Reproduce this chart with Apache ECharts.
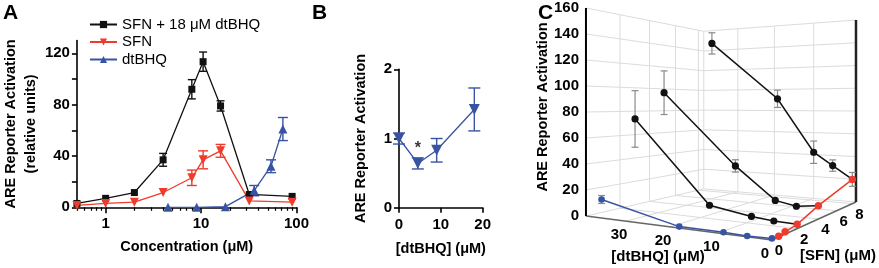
<!DOCTYPE html>
<html>
<head>
<meta charset="utf-8">
<script src="https://cdn.jsdelivr.net/npm/echarts@6/dist/echarts.min.js"></script>
<style>
  html, body { margin: 0; padding: 0; background: #fff; }
  #chart { width: 879px; height: 268px; }
</style>
</head>
<body>
<div id="chart"></div>
<script>
// ---- Panel A: concentration response (uM) ----
const concA = [0.5, 1, 2, 4, 8, 10.5, 16, 32, 90];
const comboA = [3, 7, 11.5, 37, 92, 113.5, 79, 10, 8.5];
const comboErrA = [0, 0, 0, 5, 7.5, 7.5, 4, 0, 0];
const sfnA = [1.5, 3, 4, 11.5, 23, 37, 44, 5, 4];
const sfnErrA = [0, 0, 0, 0, 6, 7, 5, 0, 0];
const dtConcA = [4.5, 9, 18, 36, 54, 72];
const dtA = [0, 0, 0.5, 13, 32, 61];
const dtErrA = [0, 0, 0, 4, 5, 9];
const majorTicksA = [1, 10, 100];
const minorTicksA = [0.5, 0.6, 0.7, 0.8, 0.9, 2, 3, 4, 5, 6, 7, 8, 9, 20, 30, 40, 50, 60, 70, 80, 90];

// ---- Panel B: dtBHQ alone ----
const dtConcB = [0, 4.5, 9, 18];
const actB = [1.0, 0.64, 0.83, 1.42];
const errB = [0.08, 0.08, 0.17, 0.31];

// ---- Panel C: SFN x dtBHQ surface ----
const dtC = [4.5, 9, 18, 36];
const sfnC = [0.5, 1, 2, 4, 8];
const sfnAloneC = [0.5, 1.5, 3, 10, 21];
const sfnAloneErrC = [0, 0, 0, 0, 6];
const dtAloneDoseC = [0, 4.5, 9, 18, 36];
const dtAloneC = [1, 0.5, 1, 1, 14];
const dtAloneErrC = [0, 0, 0, 0, 3];
const comboSfnC = [2, 4, 8];
const comboC = [[3.5, 5, 10, 74], [8, 11, 36, 96], [32, 43, 91, 146]];
const comboErrC = [[0, 0, 0, 23], [0, 0, 5, 19], [5, 10, 8, 10.5]];
const zTicksC = [0, 20, 40, 60, 80, 100, 120, 140, 160];
const dtTicksC = [0, 10, 20, 30];
const sfnTicksC = [0, 2, 4, 6, 8];

const BLACK = '#111';
const RED = '#ee3b2c';
const BLUE = '#3953a4';
const FONT = '"Liberation Sans", Arial, sans-serif';

var chart = echarts.init(document.getElementById('chart'));

// simple perspective camera for panel C (box: dtBHQ 0-40, SFN 0-8.5, 0-160)
const cam = { ox: 772, a1: -60.4, a2: 416.1, c1: 0.2144, c2: 0.388, m: 1.579, ze: 86, hy: 104.2 };
const dMax = 40, sMax = 8.5, zMax = 160;
function proj(d, s, v) {
  const X = d / dMax, Y = s / sMax;
  const w = 1 + cam.c1 * X + cam.c2 * Y;
  return [(cam.ox + cam.a1 * X + cam.a2 * Y) / w, cam.hy + (cam.ze - v) * cam.m / w];
}

function seg(list, p, q, style) {
  list.push({ type: 'line', shape: { x1: p[0], y1: p[1], x2: q[0], y2: q[1] }, style: style });
}
function txt(list, x, y, text, opt) {
  list.push({
    type: 'text', x: x, y: y, rotation: opt.rotation || 0,
    style: { text: text, fill: '#000', font: opt.font, align: opt.align || 'center', verticalAlign: opt.va || 'middle' }
  });
}

function renderFrame() {
  const kids = [];
  const grid = { stroke: '#dcdcdc', lineWidth: 1 };
  zTicksC.forEach(v => {
    seg(kids, proj(dMax, 0, v), proj(dMax, sMax, v), grid);
    seg(kids, proj(dMax, sMax, v), proj(0, sMax, v), grid);
  });
  sfnTicksC.forEach(s => {
    if (s === 0) return;
    seg(kids, proj(dMax, s, 0), proj(dMax, s, zMax), grid);
    seg(kids, proj(0, s, 0), proj(dMax, s, 0), grid);
  });
  dtTicksC.forEach(d => {
    if (d === 0) return;
    seg(kids, proj(d, sMax, 0), proj(d, sMax, zMax), grid);
    seg(kids, proj(d, 0, 0), proj(d, sMax, 0), grid);
  });
  seg(kids, proj(dMax, sMax, 0), proj(dMax, sMax, zMax), grid);
  // axes
  seg(kids, proj(0, 0, 0), proj(dMax, 0, 0), { stroke: '#666', lineWidth: 1.5 });
  seg(kids, proj(0, 0, 0), proj(0, sMax, 0), { stroke: '#666', lineWidth: 1.5 });
  seg(kids, proj(dMax, 0, 0), proj(dMax, 0, zMax), { stroke: '#000', lineWidth: 2 });
  seg(kids, proj(0, sMax, 0), proj(0, sMax, zMax), { stroke: '#222', lineWidth: 2.5 });

  const bold = 'bold 15px ' + FONT;
  zTicksC.forEach(v => {
    const p = proj(dMax, 0, v);
    txt(kids, p[0] - 7, p[1], String(v), { font: bold, align: 'right' });
  });
  dtTicksC.forEach(d => {
    const p = proj(d, 0, 0);
    txt(kids, p[0] - 7, p[1] + 14, String(d), { font: bold });
  });
  sfnTicksC.forEach(s => {
    const p = proj(0, s, 0);
    txt(kids, p[0] + 7, p[1] + 11, String(s), { font: bold });
  });
  txt(kids, 658, 257, '[dtBHQ] (μM)', { font: bold });
  txt(kids, 838, 256, '[SFN] (μM)', { font: bold });
  txt(kids, 543, 107, 'ARE Reporter Activation', { font: 'bold 14.5px ' + FONT, rotation: Math.PI / 2 });
  return { type: 'group', children: kids };
}

function errBar3d(list, top, bot) {
  const st = { stroke: '#8a8a8a', lineWidth: 1.2 };
  seg(list, top, bot, st);
  seg(list, [top[0] - 3.5, top[1]], [top[0] + 3.5, top[1]], st);
  seg(list, [bot[0] - 3.5, bot[1]], [bot[0] + 3.5, bot[1]], st);
}

function renderData() {
  const kids = [];
  // combination curves at fixed SFN
  comboSfnC.forEach((s, k) => {
    const start = proj(0, s, sfnAloneC[sfnC.indexOf(s)]);
    const pts = [start].concat(dtC.map((d, i) => proj(d, s, comboC[k][i])));
    kids.push({ type: 'polyline', shape: { points: pts }, style: { stroke: BLACK, lineWidth: 1.5, fill: null } });
    dtC.forEach((d, i) => {
      const e = comboErrC[k][i];
      if (e > 0) errBar3d(kids, proj(d, s, comboC[k][i] + e), proj(d, s, comboC[k][i] - e));
    });
    dtC.forEach((d, i) => {
      kids.push({ type: 'circle', shape: { cx: pts[i + 1][0], cy: pts[i + 1][1], r: 3.6 }, style: { fill: BLACK } });
    });
  });
  // dtBHQ alone
  const bp = dtAloneDoseC.map((d, i) => proj(d, 0, dtAloneC[i]));
  kids.push({ type: 'polyline', shape: { points: bp }, style: { stroke: BLUE, lineWidth: 1.5, fill: null } });
  dtAloneDoseC.forEach((d, i) => {
    const e = dtAloneErrC[i];
    if (e > 0) errBar3d(kids, proj(d, 0, dtAloneC[i] + e), proj(d, 0, dtAloneC[i] - e));
    kids.push({ type: 'circle', shape: { cx: bp[i][0], cy: bp[i][1], r: 3.3 }, style: { fill: BLUE } });
  });
  // SFN alone
  const rp = sfnC.map((s, i) => proj(0, s, sfnAloneC[i]));
  kids.push({ type: 'polyline', shape: { points: rp }, style: { stroke: RED, lineWidth: 1.5, fill: null } });
  sfnC.forEach((s, i) => {
    const e = sfnAloneErrC[i];
    if (e > 0) errBar3d(kids, proj(0, s, sfnAloneC[i] + e), proj(0, s, sfnAloneC[i] - e));
    kids.push({ type: 'circle', shape: { cx: rp[i][0], cy: rp[i][1], r: 3.7 }, style: { fill: RED } });
  });
  return { type: 'group', children: kids };
}

// error bars for the 2D panels
function errRender(color, cap) {
  return function (params, api) {
    const x = api.value(0), y = api.value(1), e = api.value(2);
    const top = api.coord([x, y + e]), bot = api.coord([x, y - e]);
    const st = { stroke: color, lineWidth: 1.4 };
    return {
      type: 'group', children: [
        { type: 'line', shape: { x1: top[0], y1: top[1], x2: bot[0], y2: bot[1] }, style: st },
        { type: 'line', shape: { x1: top[0] - cap, y1: top[1], x2: top[0] + cap, y2: top[1] }, style: st },
        { type: 'line', shape: { x1: bot[0] - cap, y1: bot[1], x2: bot[0] + cap, y2: bot[1] }, style: st }
      ]
    };
  };
}
function withErr(xs, ys, es) {
  return xs.map((x, i) => [x, ys[i], es[i]]).filter(r => r[2] > 0);
}

const axisFont = { color: '#000', fontSize: 15, fontWeight: 'bold', fontFamily: FONT };
const nameFont = { color: '#000', fontSize: 14.5, fontWeight: 'bold', fontFamily: FONT, lineHeight: 20 };
const axLine = { show: true, onZero: false, lineStyle: { color: '#000', width: 1.6 } };

const option = {
  animation: false,
  backgroundColor: '#fff',
  textStyle: { fontFamily: FONT },
  graphic: [
    { type: 'text', left: 3, top: 3, style: { text: 'A', font: 'bold 21px ' + FONT, fill: '#000' } },
    { type: 'text', left: 312, top: 3, style: { text: 'B', font: 'bold 21px ' + FONT, fill: '#000' } },
    { type: 'text', left: 538, top: 3, style: { text: 'C', font: 'bold 21px ' + FONT, fill: '#000' } }
  ],
  legend: {
    left: 84, top: 12, orient: 'vertical', itemWidth: 27, itemHeight: 9, itemGap: 2.5,
    data: ['SFN + 18 μM dtBHQ', 'SFN', 'dtBHQ'],
    textStyle: { color: '#000', fontSize: 15, fontFamily: FONT }
  },
  grid: [
    { left: 70, right: 582.5, top: 40.5, bottom: 60.7 },
    { left: 399, right: 396.3, top: 69.3, bottom: 60.3 }
  ],
  xAxis: [
    {
      type: 'log', gridIndex: 0, min: 0.5, max: 100, position: 'bottom',
      axisLine: axLine,
      axisTick: { customValues: majorTicksA, length: 6, lineStyle: { color: '#000', width: 1.6 } },
      axisLabel: { customValues: majorTicksA, margin: 9, ...axisFont },
      splitLine: { show: false },
      name: 'Concentration (μM)', nameLocation: 'middle', nameGap: 30, nameTextStyle: nameFont
    },
    {
      type: 'log', gridIndex: 0, min: 0.5, max: 100, position: 'bottom',
      axisLine: { show: false },
      axisTick: { customValues: minorTicksA, length: 3.5, lineStyle: { color: '#000', width: 1.2 } },
      axisLabel: { show: false }, splitLine: { show: false }
    },
    {
      type: 'value', gridIndex: 1, min: 0, max: 20, interval: 10,
      axisLine: axLine,
      axisTick: { length: 5, lineStyle: { color: '#000', width: 1.6 } },
      axisLabel: { margin: 10, ...axisFont },
      splitLine: { show: false },
      name: '[dtBHQ] (μM)', nameLocation: 'middle', nameGap: 31, nameTextStyle: nameFont
    }
  ],
  yAxis: [
    {
      type: 'value', gridIndex: 0, min: 0, max: 130,
      axisLine: axLine,
      axisTick: { customValues: [0, 20, 40, 60, 80, 100, 120], length: 5, lineStyle: { color: '#000', width: 1.6 } },
      axisLabel: { customValues: [0, 40, 80, 120], margin: 7, ...axisFont },
      splitLine: { show: false },
      name: 'ARE Reporter Activation\n(relative units)', nameLocation: 'middle', nameGap: 30, nameTextStyle: nameFont
    },
    {
      type: 'value', gridIndex: 1, min: 0, max: 2, interval: 1,
      axisLine: axLine,
      axisTick: { length: 5, lineStyle: { color: '#000', width: 1.6 } },
      axisLabel: { margin: 7, ...axisFont },
      splitLine: { show: false },
      name: 'ARE Reporter Activation', nameLocation: 'middle', nameGap: 28, nameTextStyle: nameFont
    }
  ],
  series: [
    {
      type: 'custom', xAxisIndex: 0, yAxisIndex: 0, silent: true, z: 1,
      renderItem: errRender(BLACK, 4), data: withErr(concA, comboA, comboErrA)
    },
    {
      type: 'custom', xAxisIndex: 0, yAxisIndex: 0, silent: true, z: 1,
      renderItem: errRender(RED, 5), data: withErr(concA, sfnA, sfnErrA)
    },
    {
      type: 'custom', xAxisIndex: 0, yAxisIndex: 0, silent: true, z: 1,
      renderItem: errRender(BLUE, 5), data: withErr(dtConcA, dtA, dtErrA)
    },
    {
      name: 'SFN + 18 μM dtBHQ', type: 'line', xAxisIndex: 0, yAxisIndex: 0,
      data: concA.map((x, i) => [x, comboA[i]]),
      symbol: 'rect', symbolSize: 7, color: BLACK, lineStyle: { width: 1.3 }, z: 3
    },
    {
      name: 'SFN', type: 'line', xAxisIndex: 0, yAxisIndex: 0,
      data: concA.map((x, i) => [x, sfnA[i]]),
      symbol: 'triangle', symbolRotate: 180, symbolSize: 9, color: RED, lineStyle: { width: 1.3 }, z: 3
    },
    {
      name: 'dtBHQ', type: 'line', xAxisIndex: 0, yAxisIndex: 0,
      data: dtConcA.map((x, i) => [x, dtA[i]]),
      symbol: 'triangle', symbolSize: 9, color: BLUE, lineStyle: { width: 1.3 }, z: 3
    },
    {
      type: 'custom', xAxisIndex: 2, yAxisIndex: 1, silent: true, z: 1,
      renderItem: errRender(BLUE, 6), data: withErr(dtConcB, actB, errB)
    },
    {
      type: 'line', xAxisIndex: 2, yAxisIndex: 1,
      data: dtConcB.map((x, i) => [x, actB[i]]),
      symbol: 'triangle', symbolRotate: 180, symbolSize: 11, color: BLUE, lineStyle: { width: 1.3 }, z: 3
    },
    {
      type: 'scatter', xAxisIndex: 2, yAxisIndex: 1, symbolSize: 0,
      data: [[4.5, 0.86]],
      label: { show: true, position: 'inside', formatter: '*', color: '#000', fontSize: 16, fontWeight: 'bold' }
    },
    { type: 'custom', coordinateSystem: 'none', silent: true, data: [[0]], renderItem: renderFrame, z: 1 },
    { type: 'custom', coordinateSystem: 'none', silent: true, data: [[0]], renderItem: renderData, z: 2 }
  ]
};

chart.setOption(option);
</script>
</body>
</html>
